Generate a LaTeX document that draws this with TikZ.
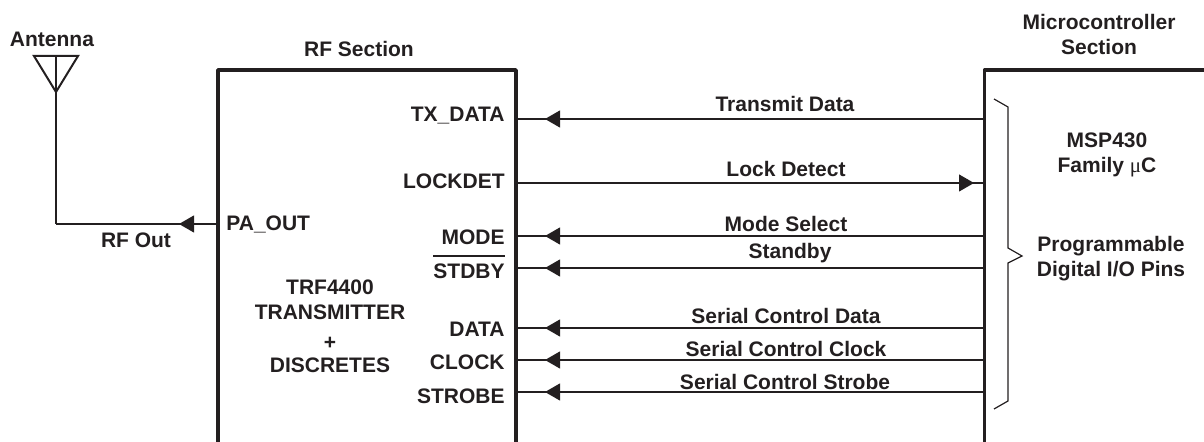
\documentclass[tikz,border=0pt]{standalone}
\usepackage{fontspec}
\setmainfont{Liberation Sans}
\newfontfamily\greekfont{Liberation Serif}
\usetikzlibrary{positioning,arrows.meta,decorations.markings}
\definecolor{ink}{HTML}{231F20}
\tikzset{
	txt/.style={font=\bfseries\fontsize{10.5}{12.5}\selectfont,text=ink,inner sep=0pt,align=center},
	pinlabel/.style={txt,anchor=east},
	wall/.style={draw=ink,line width=1.8pt,line join=round},
	wire/.style={draw=ink,line width=.55pt},
	tip/.tip={Triangle[length=7.5pt,width=8.5pt]},
	sig/.style={wire,postaction={decorate},decoration={markings,mark=at position #1 with {\arrow[ink]{tip}}}},
	siginput/.style={sig=-14.5pt},
	sigoutput/.style={sig=-5pt}
}
\begin{document}
\begin{tikzpicture}[x=.5pt,y=-.5pt]
	\useasboundingbox (0,0) rectangle (1204,442);

	% the two sections
	\draw[wall] (218,442) -- (218,70) -- (516,70) -- (516,442);
	\draw[wall] (984.5,442) -- (984.5,70) -- (1204,70);
	\node[txt] (rfsection) at (359,49) {RF Section};
	\node[txt] (mcusection) at (1099,34.5) {Microcontroller\\Section};
	\node[txt] (trf) at (330,326) {TRF4400\\TRANSMITTER\\[2.5pt]+\\[-1pt]DISCRETES};
	\node[txt] (msp) at (1107,154.5) {MSP430\\Family {\greekfont\mdseries μ}C};
	\node[txt] (prog) at (1111,259) {Programmable\\Digital I/O Pins};

	% antenna
	\node[txt] (antenna) at (52,39) {Antenna};
	\coordinate (anttop) at (56,56);
	\coordinate (antfoot) at (56,92);
	\coordinate (antcorner) at (56,224);
	\coordinate (paedge) at (216.5,224);
	\draw[draw=ink,line width=1pt,line join=miter] (34,56) -- (78,56) -- (antfoot) -- cycle;
	\draw[wire] (anttop) -- (antfoot) -- (antcorner);
	\draw[sig=18.75pt] (paedge) -- (antcorner);
	\node[txt,anchor=west] (paout) at (226,224) {PA\_OUT};
	\node[txt] (rfout) at (136,240) {RF Out};

	% pins of the RF section
	\node[pinlabel] (txdata) at (505,116) {TX\_DATA};
	\node[pinlabel] (lockdet) at (505,181) {LOCKDET};
	\node[pinlabel] (mode) at (505,237) {MODE};
	\node[pinlabel] (stdby) at (505,271) {STDBY};
	\draw[draw=ink,line width=1.1pt] ([yshift=3.4pt]stdby.north west) -- ([yshift=3.4pt]stdby.north east);
	\node[pinlabel] (data) at (505,329) {DATA};
	\node[pinlabel] (clock) at (505,362) {CLOCK};
	\node[pinlabel] (strobe) at (505,396) {STROBE};

	% signals, microcontroller to RF section
	\coordinate (rf1) at (516,119);
	\coordinate (rf2) at (516,183);
	\coordinate (rf3) at (516,236);
	\coordinate (rf4) at (516,268);
	\coordinate (rf5) at (516,328);
	\coordinate (rf6) at (516,360);
	\coordinate (rf7) at (516,392);
	\coordinate (mc1) at (984,119);
	\coordinate (mc2) at (984,183);
	\coordinate (mc3) at (984,236);
	\coordinate (mc4) at (984,268);
	\coordinate (mc5) at (984,328);
	\coordinate (mc6) at (984,360);
	\coordinate (mc7) at (984,392);
	\draw[siginput] (mc1) -- (rf1);
	\draw[sigoutput] (rf2) -- (mc2);
	\draw[siginput] (mc3) -- (rf3);
	\draw[siginput] (mc4) -- (rf4);
	\draw[siginput] (mc5) -- (rf5);
	\draw[siginput] (mc6) -- (rf6);
	\draw[siginput] (mc7) -- (rf7);
	\node[txt] (sig1) at (785,104) {Transmit Data};
	\node[txt] (sig2) at (786,169) {Lock Detect};
	\node[txt] (sig3) at (786,224) {Mode Select};
	\node[txt] (sig4) at (790,253) {Standby};
	\node[txt] (sig5) at (786,316) {Serial Control Data};
	\node[txt] (sig6) at (786,349) {Serial Control Clock};
	\node[txt] (sig7) at (785,382) {Serial Control Strobe};

	% brace
	\draw[draw=ink,line width=.6pt] (994,99) -- (1008,107) -- (1008,248) -- (1022,256) -- (1008,263) -- (1008,401) -- (994,409);
\end{tikzpicture}
\end{document}
